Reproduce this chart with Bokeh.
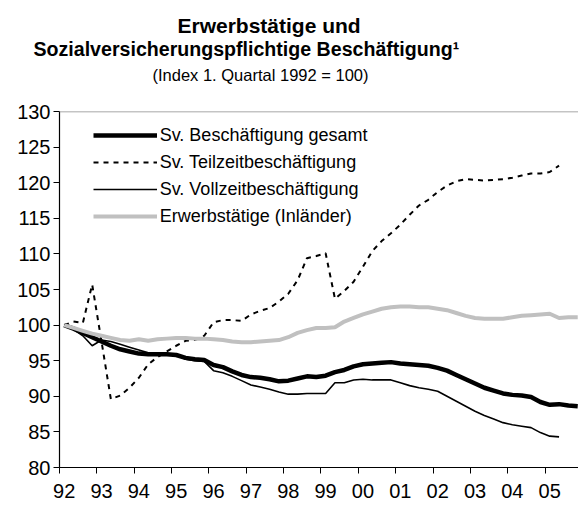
from bokeh.plotting import figure
from bokeh.layouts import column
from bokeh.models import Range1d, FixedTicker, Label, Span, Legend, LegendItem
from bokeh.embed import file_html
from bokeh.resources import INLINE

# ---------------- data ----------------
years = list(range(1992, 2006))
year_labels = ["92", "93", "94", "95", "96", "97", "98", "99",
               "00", "01", "02", "03", "04", "05"]
quarters = [(y, q) for y in years for q in (1, 2, 3, 4)]

sv_gesamt = [100.0, 99.5, 98.9, 98.3, 97.7, 97.1, 96.6, 96.3, 96.0, 95.9, 95.9, 95.9,
             95.8, 95.4, 95.2, 95.1, 94.4, 94.1, 93.5, 93.0, 92.7, 92.6, 92.4, 92.1,
             92.2, 92.5, 92.8, 92.7, 92.9, 93.4, 93.7, 94.2, 94.5, 94.6, 94.7, 94.8,
             94.6, 94.5, 94.4, 94.3, 94.0, 93.6, 93.0, 92.4, 91.8, 91.2, 90.8, 90.4,
             90.2, 90.1, 89.9, 89.2, 88.8, 88.9, 88.7, 88.6]
sv_teilzeit = [100.0, 100.5, 100.3, 105.7, 97.7, 89.6, 90.1, 91.2, 92.6, 94.5, 95.5, 96.3,
               97.1, 97.8, 97.9, 98.5, 100.4, 100.7, 100.7, 100.6, 101.5, 102.0, 102.4, 103.3,
               104.4, 106.3, 109.4, 109.7, 110.1, 103.7, 104.8, 106.1, 108.2, 110.4, 111.8, 112.9,
               114.1, 115.5, 116.8, 117.6, 118.7, 119.6, 120.2, 120.5, 120.4, 120.3, 120.4, 120.5,
               120.7, 121.0, 121.3, 121.3, 121.5, 122.4]
sv_vollzeit = [100.0, 99.4, 98.5, 97.1, 97.9, 97.7, 97.3, 96.9, 96.5, 96.1, 96.0, 95.9,
               95.8, 95.2, 95.0, 94.9, 93.6, 93.3, 92.8, 92.2, 91.6, 91.3, 91.0, 90.6,
               90.3, 90.3, 90.4, 90.4, 90.4, 91.9, 91.9, 92.3, 92.4, 92.3, 92.3, 92.3,
               91.9, 91.5, 91.2, 91.0, 90.7, 90.0, 89.3, 88.6, 87.9, 87.3, 86.8, 86.3,
               86.0, 85.8, 85.6, 84.9, 84.4, 84.3]
erwerbstaetige = [100.0, 99.6, 99.2, 98.8, 98.5, 98.2, 97.9, 97.8, 98.0, 97.8, 98.0, 98.1,
                  98.2, 98.2, 98.1, 98.1, 98.0, 97.9, 97.7, 97.6, 97.6, 97.7, 97.8, 97.9,
                  98.3, 98.9, 99.3, 99.6, 99.6, 99.7, 100.5, 101.0, 101.5, 101.9, 102.3, 102.5,
                  102.6, 102.6, 102.5, 102.5, 102.3, 102.1, 101.7, 101.3, 101.0, 100.9, 100.9, 100.9,
                  101.1, 101.3, 101.4, 101.5, 101.6, 101.0, 101.1, 101.1]

series_names = ["Sv. Beschäftigung gesamt", "Sv. Teilzeitbeschäftigung",
                "Sv. Vollzeitbeschäftigung", "Erwerbstätige (Inländer)"]

title_line1 = "Erwerbstätige und"
title_line2 = "Sozialversicherungspflichtige Beschäftigung¹"
subtitle = "(Index 1. Quartal 1992 = 100)"

# quarter centre positions on a year axis
xq = [y + (q - 0.5) / 4 for (y, q) in quarters]

FONT = "Liberation Sans"
W = 578
TITLE_H = 100

# ---------------- title block ----------------
tf = figure(width=W, height=TITLE_H, x_axis_type=None, y_axis_type=None,
            output_backend="svg", toolbar_location=None,
            min_border_left=0, min_border_right=0, min_border_top=0, min_border_bottom=0)
tf.frame_align = False
tf.outline_line_color = None
tf.xgrid.visible = False
tf.ygrid.visible = False
for txt, lx, ly, style, size in [(title_line1, 177, 75, "bold", "21px"),
                                 (title_line2, 33, 51.5, "bold", "19.6px"),
                                 (subtitle, 152, 26, "normal", "16.5px")]:
    tf.add_layout(Label(x=lx, y=ly, x_units="screen", y_units="screen", text=txt,
                        text_font=FONT, text_font_style=style, text_font_size=size,
                        text_baseline="alphabetic", text_align="left", text_color="black"))

# ---------------- chart ----------------
p = figure(width=W, height=405,
           x_range=Range1d(1992, 1992 + 519 / 37.35),
           y_range=Range1d(80, 130),
           output_backend="svg", toolbar_location=None,
           min_border_left=59, min_border_right=0,
           min_border_top=11, min_border_bottom=38)
p.frame_align = False
p.outline_line_color = None
p.xgrid.visible = False
p.ygrid.visible = False

r_total = p.line(xq[:len(sv_gesamt)], sv_gesamt, line_color="black", line_width=4.5)
r_teil = p.line(xq[:len(sv_teilzeit)], sv_teilzeit, line_color="black", line_width=2,
                line_dash="5 5")
r_voll = p.line(xq[:len(sv_vollzeit)], sv_vollzeit, line_color="black", line_width=1.6)
r_erw = p.line(xq[:len(erwerbstaetige)], erwerbstaetige, line_color="#c0c0c0", line_width=4)

p.add_layout(Span(location=p.y_range.end, dimension="width", line_color="#8a8a8a", line_width=1.5))

xax = p.xaxis[0]
xax.ticker = FixedTicker(ticks=[y + 0.125 for y in years], minor_ticks=years)
xax.major_label_overrides = {y + 0.125: lbl for y, lbl in zip(years, year_labels)}
xax.major_tick_line_color = None
xax.minor_tick_line_color = "black"
xax.minor_tick_out = 6
xax.minor_tick_in = 0
xax.axis_line_color = "black"
xax.axis_line_width = 1.2
xax.major_label_standoff = 10
xax.major_label_text_font = FONT
xax.major_label_text_font_size = "20px"
xax.major_label_text_color = "black"

yax = p.yaxis[0]
yax.ticker = FixedTicker(ticks=list(range(80, 131, 5)))
yax.major_tick_out = 6
yax.major_tick_in = 0
yax.minor_tick_line_color = None
yax.axis_line_color = "black"
yax.axis_line_width = 1.2
yax.major_label_standoff = 3
yax.major_label_text_font = FONT
yax.major_label_text_font_size = "20px"
yax.major_label_text_color = "black"

legend = Legend(items=[LegendItem(label=n, renderers=[r]) for n, r in
                       zip(series_names, [r_total, r_teil, r_voll, r_erw])],
                location=(33.7, 356 - 12 - 105), padding=0, margin=0, spacing=3,
                glyph_width=64, glyph_height=24, label_standoff=3,
                border_line_color=None, background_fill_alpha=0,
                label_text_font=FONT, label_text_font_size="18px",
                label_text_color="black")
p.add_layout(legend)

open("out.html", "w").write(file_html(column(tf, p, spacing=0), INLINE))
